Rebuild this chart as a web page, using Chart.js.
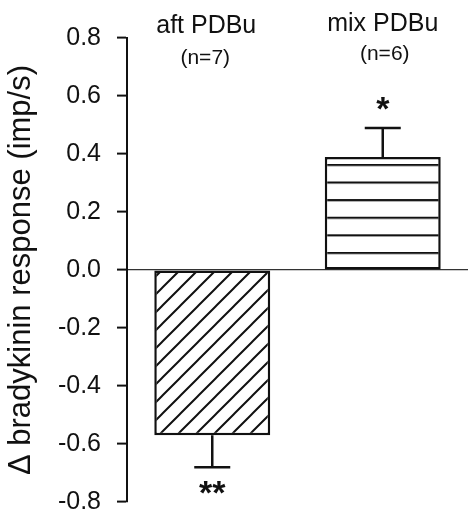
<!DOCTYPE html>
<html>
<head>
<meta charset="utf-8">
<script src="https://cdn.jsdelivr.net/npm/chart.js@4"></script>
<style>
html,body{margin:0;padding:0;background:#fff;}
#wrap{width:468px;height:512px;}
</style>
</head>
<body>
<div id="wrap"><canvas id="c" width="468" height="512"></canvas></div>
<script>
const categories = ['aft PDBu', 'mix PDBu'];
const sampleSizes = ['(n=7)', '(n=6)'];
const meanValues = [-0.57, 0.39];
const semValues = [0.11, 0.10];
const significance = ['**', '*'];
const yTicks = [-0.8, -0.6, -0.4, -0.2, 0.0, 0.2, 0.4, 0.6, 0.8];
const yTitle = '\u0394 bradykinin response (imp/s)';

const FONT = "'Liberation Sans', Arial, Helvetica, sans-serif";

function makeDiagonal(ctx) {
  const s = 18;
  const t = document.createElement('canvas');
  t.width = s; t.height = s;
  const g = t.getContext('2d');
  g.fillStyle = '#fff'; g.fillRect(0, 0, s, s);
  g.strokeStyle = '#111'; g.lineWidth = 2;
  g.beginPath();
  g.moveTo(-s, 2 * s); g.lineTo(2 * s, -s);
  g.moveTo(-s, s); g.lineTo(s, -s);
  g.moveTo(0, 2 * s); g.lineTo(2 * s, 0);
  g.stroke();
  return ctx.createPattern(t, 'repeat');
}
function makeHorizontal(ctx) {
  const s = 20;
  const t = document.createElement('canvas');
  t.width = s; t.height = s;
  const g = t.getContext('2d');
  g.fillStyle = '#fff'; g.fillRect(0, 0, s, s);
  g.fillStyle = '#111';
  g.fillRect(0, 0, s, 2.4);
  return ctx.createPattern(t, 'repeat');
}

const ctx = document.getElementById('c').getContext('2d');
const patterns = [makeDiagonal(ctx), makeHorizontal(ctx)];

const annotate = {
  id: 'annotate',
  beforeDatasetsDraw(chart) {
    const meta = chart.getDatasetMeta(0);
    const bar = meta.data[1];
    if (bar && patterns[1].setTransform) {
      const top = Math.min(bar.y, bar.base);
      patterns[1].setTransform(new DOMMatrix().translate(0, top + 7).scale(1, 0.88));
    }
  },
  afterDatasetsDraw(chart) {
    const c = chart.ctx;
    const meta = chart.getDatasetMeta(0);
    const y = chart.scales.y;
    c.save();
    c.strokeStyle = '#111';
    c.lineWidth = 2.5;
    meta.data.forEach((bar, i) => {
      const v = meanValues[i];
      const e = semValues[i];
      const end = v < 0 ? v - e : v + e;
      const y0 = y.getPixelForValue(v);
      const y1 = y.getPixelForValue(end);
      c.beginPath();
      c.moveTo(bar.x, y0);
      c.lineTo(bar.x, y1);
      c.moveTo(bar.x - 18, y1);
      c.lineTo(bar.x + 18, y1);
      c.stroke();
      c.fillStyle = '#111';
      c.textAlign = 'center';
      c.textBaseline = 'middle';
      c.font = 'bold 34px ' + FONT;
      const starY = v < 0 ? y1 + 27 : y1 - 17;
      c.fillText(significance[i], bar.x, starY);
      c.font = '25px ' + FONT;
      c.fillText(categories[i], bar.x - (i === 0 ? 6 : 0), i === 0 ? 26 : 24);
      c.font = '21px ' + FONT;
      c.fillText(sampleSizes[i], bar.x - (i === 0 ? 7 : -2), i === 0 ? 58 : 54);
    });
    c.restore();
  }
};

new Chart(ctx, {
  type: 'bar',
  data: {
    labels: categories,
    datasets: [{
      data: meanValues,
      backgroundColor: patterns,
      borderColor: '#111',
      borderWidth: 2.5,
      borderSkipped: false,
      categoryPercentage: 1,
      barPercentage: 0.68
    }]
  },
  options: {
    responsive: false,
    animation: false,
    devicePixelRatio: 1,
    layout: { padding: { top: 38, right: 0, bottom: 10, left: 0 } },
    plugins: { legend: { display: false }, tooltip: { enabled: false } },
    scales: {
      x: { display: false, offset: true },
      y: {
        min: -0.8,
        max: 0.8,
        afterBuildTicks(scale) { scale.ticks = yTicks.map(v => ({ value: v })); },
        afterFit(scale) {
          scale.width = 127;
          scale.paddingTop = 0;
          scale.paddingBottom = 0;
        },
        border: { display: true, color: '#111', width: 2 },
        grid: {
          color: (c) => (c.tick && Math.abs(c.tick.value) < 1e-9) ? '#333' : 'rgba(0,0,0,0)',
          lineWidth: 1.2,
          tickColor: '#111',
          tickWidth: 2,
          tickLength: 10,
          drawOnChartArea: true
        },
        ticks: {
          color: '#111',
          padding: 16,
          font: { family: FONT, size: 25 },
          callback: (v) => Number(v).toFixed(1)
        },
        title: {
          display: true,
          text: yTitle,
          color: '#111',
          padding: { top: 3, bottom: 0 },
          font: { family: FONT, size: 31 }
        }
      }
    }
  },
  plugins: [annotate]
});
</script>
</body>
</html>
